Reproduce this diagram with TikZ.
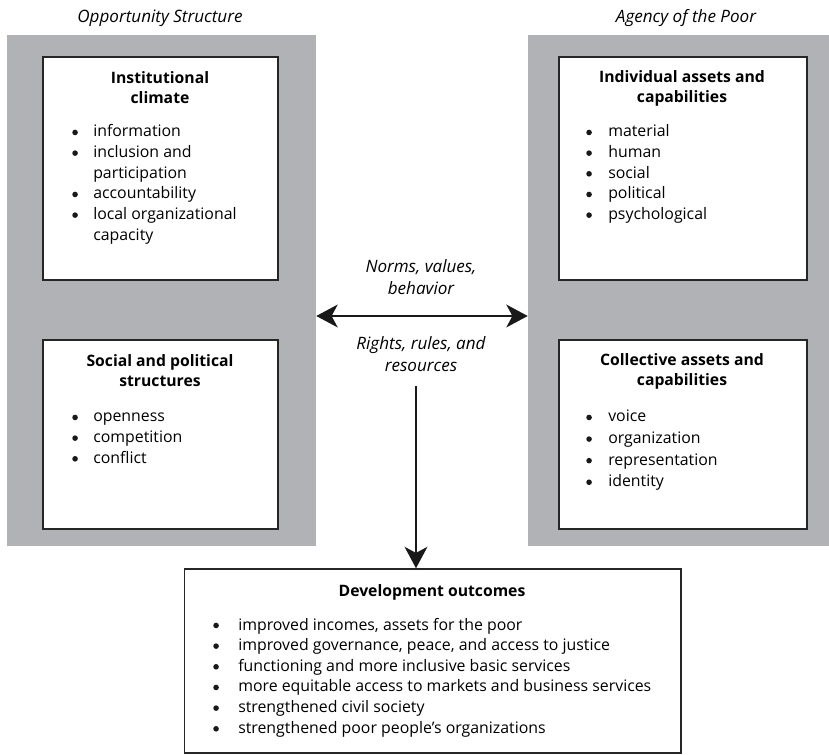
\documentclass[tikz,border=0pt]{standalone}
\usepackage{fontspec}
\setmainfont{Open Sans}
\usetikzlibrary{arrows.meta,fit}

\definecolor{panelgray}{RGB}{177,178,181}

% width reserved for a bullet before the item text
\newlength{\bulw}
\newcommand{\dotmark}{\raisebox{1.3pt}{\tikz\fill[black!90] (0pt,0pt) circle (2.1pt);}}
\newcommand{\blt}{\makebox[\bulw][l]{\dotmark}}
\newcommand{\cont}{\hspace*{\bulw}}

\tikzset{
  panel/.style={fill=panelgray, draw=none, inner sep=0pt},
  whitebox/.style={fill=white, draw=black!85, line width=1.1pt, inner sep=0pt},
  titletext/.style={inner sep=0pt, anchor=base,
    font=\fontsize{11.8}{15}\selectfont\bfseries},
  listtext/.style={inner sep=0pt, anchor=base west,
    font=\fontsize{11.9}{15.5}\selectfont},
  captext/.style={inner sep=0pt, anchor=base,
    font=\fontsize{12.8}{16}\selectfont\itshape},
  flow/.style={line width=2pt, black!90,
    -{Stealth[length=16pt, width=17pt, inset=4.5pt]}},
  flowboth/.style={line width=2pt, black!90,
    {Stealth[length=16pt, width=17pt, inset=4.5pt]}-{Stealth[length=16pt, width=17pt, inset=4.5pt]}},
}

\begin{document}
\begin{tikzpicture}[x=0.75pt, y=-0.75pt]
\useasboundingbox (0,0) rectangle (829,755);

% grey panels
\node[panel, fit={(7,35) (316,546)}] (lp) {};
\node[panel, fit={(528,35) (829,546)}] (rp) {};

% panel captions
\node[captext] (capl) at (160,23) {Opportunity Structure};
\node[captext] (capr) at (686,23) {Agency of the Poor};

% white boxes
\node[whitebox, fit={(43,57) (278,280)}] (b1) {};
\node[whitebox, fit={(43,340) (278,529)}] (b2) {};
\node[whitebox, fit={(559,57) (807,280)}] (b3) {};
\node[whitebox, fit={(559,340) (807,529)}] (b4) {};
\node[whitebox, fit={(184.5,569) (681,753)}] (b5) {};

% Institutional climate
\node[titletext] (t1) at (160,84) {\begin{tabular}[t]{@{}c@{}}Institutional\\climate\end{tabular}};
\node[listtext] (l1) at (72,137) {\setlength{\bulw}{15.75pt}\begin{tabular}[t]{@{}l@{}}
\blt information\\
\blt inclusion and\\
\cont participation\\
\blt accountability\\
\blt local organizational\\
\cont capacity
\end{tabular}};

% Social and political structures
\node[titletext] (t2) at (160,367) {\begin{tabular}[t]{@{}c@{}}Social and political\\structures\end{tabular}};
\node[listtext] (l2) at (72,422) {\setlength{\bulw}{15.75pt}\begin{tabular}[t]{@{}l@{}}
\blt openness\\
\blt competition\\
\blt conflict
\end{tabular}};

% Individual assets and capabilities
\node[titletext] (t3) at (682,83) {\begin{tabular}[t]{@{}c@{}}Individual assets and\\capabilities\end{tabular}};
\node[listtext] (l3) at (586,137) {\setlength{\bulw}{16.5pt}\begin{tabular}[t]{@{}l@{}}
\blt material\\
\blt human\\
\blt social\\
\blt political\\
\blt psychological
\end{tabular}};

% Collective assets and capabilities
\node[titletext] (t4) at (682,366) {\begin{tabular}[t]{@{}c@{}}Collective assets and\\capabilities\end{tabular}};
\node[listtext, font=\fontsize{11.9}{16.2}\selectfont] (l4) at (586,422) {\setlength{\bulw}{16.5pt}\begin{tabular}[t]{@{}l@{}}
\blt voice\\
\blt organization\\
\blt representation\\
\blt identity
\end{tabular}};

% Development outcomes
\node[titletext] (t5) at (432,597) {Development outcomes};
\node[listtext] (l5) at (213,630) {\setlength{\bulw}{18.75pt}\begin{tabular}[t]{@{}l@{}}
\blt improved incomes, assets for the poor\\
\blt improved governance, peace, and access to justice\\
\blt functioning and more inclusive basic services\\
\blt more equitable access to markets and business services\\
\blt strengthened civil society\\
\blt strengthened poor people's organizations
\end{tabular}};

% labels on the connectors
\node[captext] (norms) at (421,273) {\begin{tabular}[t]{@{}c@{}}Norms, values,\\behavior\end{tabular}};
\node[captext] (rights) at (421,350) {\begin{tabular}[t]{@{}c@{}}Rights, rules, and\\resources\end{tabular}};

% connectors
\coordinate (hmid) at (422,316);
\coordinate (vtop) at (416,386);
\draw[flowboth] (lp.east |- hmid) -- (rp.west |- hmid);
\draw[flow] (vtop) -- (b5.north -| vtop);
\end{tikzpicture}
\end{document}
